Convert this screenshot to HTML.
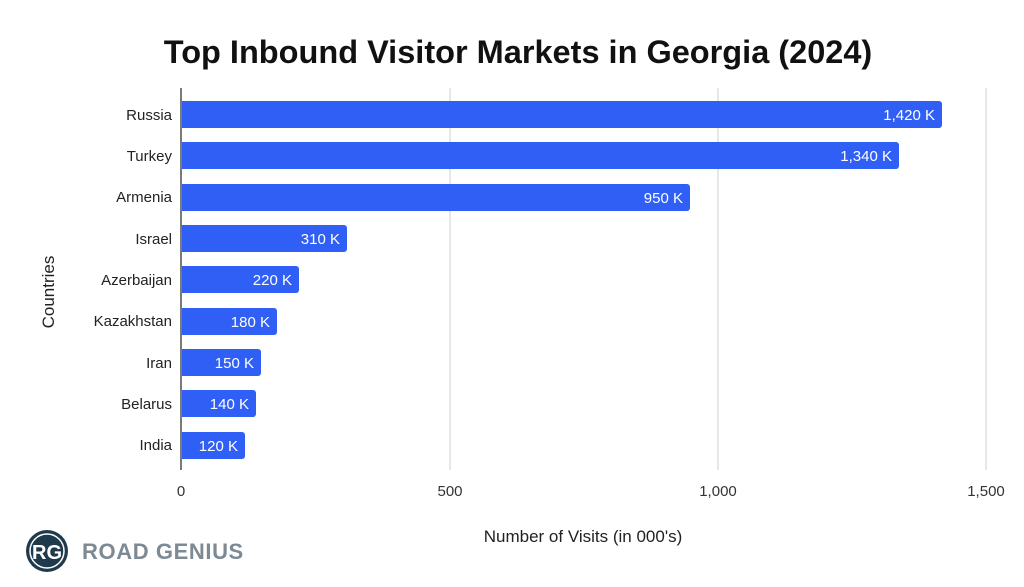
<!DOCTYPE html>
<html><head><meta charset="utf-8"><style>
body{margin:0;width:1024px;height:582px;background:#fff;overflow:hidden;font-family:"Liberation Sans",Arial,sans-serif}
</style></head><body>
<svg width="1024" height="582" xmlns="http://www.w3.org/2000/svg" font-family="Liberation Sans, Arial, sans-serif">
<text x="518" y="63" text-anchor="middle" font-size="32.5" font-weight="bold" fill="#111">Top Inbound Visitor Markets in Georgia (2024)</text>
<g stroke="#cfcfcf" stroke-width="1">
<line x1="450" y1="88" x2="450" y2="470"/>
<line x1="718" y1="88" x2="718" y2="470"/>
<line x1="986" y1="88" x2="986" y2="470"/>
</g>
<line x1="181" y1="88" x2="181" y2="470" stroke="#333" stroke-width="1.3"/>
<g font-size="15" fill="#333" text-anchor="middle">
<text x="181" y="496">0</text><text x="450" y="496">500</text><text x="718" y="496">1,000</text><text x="986" y="496">1,500</text>
</g>
<text x="583" y="542" text-anchor="middle" font-size="17" fill="#222">Number of Visits (in 000's)</text>
<text transform="translate(54,292) rotate(-90)" text-anchor="middle" font-size="17" fill="#222">Countries</text>
<g font-size="15" fill="#222" text-anchor="end">
<text x="172" y="120">Russia</text>
<text x="172" y="161">Turkey</text>
<text x="172" y="202">Armenia</text>
<text x="172" y="244">Israel</text>
<text x="172" y="285">Azerbaijan</text>
<text x="172" y="326">Kazakhstan</text>
<text x="172" y="368">Iran</text>
<text x="172" y="409">Belarus</text>
<text x="172" y="450">India</text>
</g>
<g fill="#2f5ff5">
<path d="M182,101h757a3,3 0 0 1 3,3v21a3,3 0 0 1 -3,3h-757z"/>
<path d="M182,142h714a3,3 0 0 1 3,3v21a3,3 0 0 1 -3,3h-714z"/>
<path d="M182,184h505a3,3 0 0 1 3,3v21a3,3 0 0 1 -3,3h-505z"/>
<path d="M182,225h162a3,3 0 0 1 3,3v21a3,3 0 0 1 -3,3h-162z"/>
<path d="M182,266h114a3,3 0 0 1 3,3v21a3,3 0 0 1 -3,3h-114z"/>
<path d="M182,308h92a3,3 0 0 1 3,3v21a3,3 0 0 1 -3,3h-92z"/>
<path d="M182,349h76a3,3 0 0 1 3,3v21a3,3 0 0 1 -3,3h-76z"/>
<path d="M182,390h71a3,3 0 0 1 3,3v21a3,3 0 0 1 -3,3h-71z"/>
<path d="M182,432h60a3,3 0 0 1 3,3v21a3,3 0 0 1 -3,3h-60z"/>
</g>
<g font-size="15" fill="#fff" text-anchor="end">
<text x="935" y="120">1,420 K</text>
<text x="892" y="161">1,340 K</text>
<text x="683" y="203">950 K</text>
<text x="340" y="244">310 K</text>
<text x="292" y="285">220 K</text>
<text x="270" y="327">180 K</text>
<text x="254" y="368">150 K</text>
<text x="249" y="409">140 K</text>
<text x="238" y="451">120 K</text>
</g>
<circle cx="47" cy="551" r="21" fill="#1f3a4d"/>
<circle cx="47" cy="551" r="17" fill="none" stroke="#fff" stroke-width="1.5"/>
<text x="47" y="559" text-anchor="middle" font-size="20" font-weight="bold" fill="#fff">RG</text>
<text x="82" y="559" font-size="22" font-weight="bold" fill="#7d8a94" letter-spacing="0.6">ROAD GENIUS</text>
</svg>
</body></html>
